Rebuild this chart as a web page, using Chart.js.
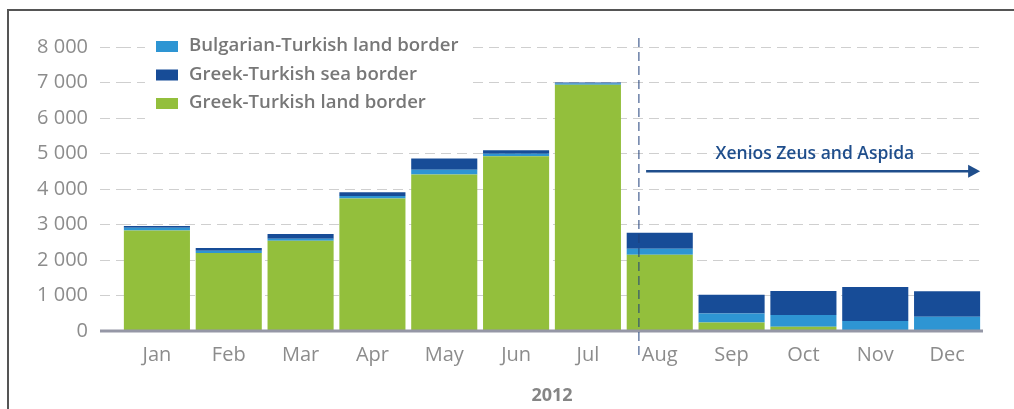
<!DOCTYPE html>
<html>
<head>
<meta charset="utf-8">
<script src="https://cdn.jsdelivr.net/npm/chart.js@4"></script>
<style>
  html, body { margin: 0; padding: 0; background: #fff; }
  #wrap { width: 1014px; height: 409px; }
</style>
</head>
<body>
<div id="wrap"><canvas id="chart" width="1014" height="409"></canvas></div>
<script>
// chart data
const months = ['Jan', 'Feb', 'Mar', 'Apr', 'May', 'Jun', 'Jul', 'Aug', 'Sep', 'Oct', 'Nov', 'Dec'];
const greekLand = [2830, 2200, 2540, 3730, 4410, 4920, 6940, 2150, 240, 120, 30, 20];
const bulgarianLand = [80, 60, 60, 70, 130, 70, 30, 170, 255, 330, 250, 380];
const greekSea = [50, 80, 130, 110, 320, 100, 30, 450, 525, 680, 960, 720];
const yTickLabels = ['0', '1 000', '2 000', '3 000', '4 000', '5 000', '6 000', '7 000', '8 000'];
const yearLabel = '2012';
const operationLabel = 'Xenios Zeus and Aspida';

// where the operation starts / arrow runs (category index units, y value)
const operationStart = 6.71;
const arrowFrom = 6.81;
const arrowTo = 11.46;
const arrowValue = 4500;
const textValue = 4990;
const textAt = 9.16;

const green = '#93bf3c';
const lightBlue = '#2e95d3';
const darkBlue = '#174c97';
const labelGrey = '#8c8c8c';

const decorations = {
    id: 'decorations',
    afterDraw(chart) {
        const ctx = chart.ctx;
        const x = chart.scales.x;
        const y = chart.scales.y;
        const area = chart.chartArea;
        ctx.save();

        // frame (top + left only)
        ctx.strokeStyle = '#555';
        ctx.lineWidth = 2;
        ctx.beginPath();
        ctx.moveTo(8, 409);
        ctx.lineTo(8, 10);
        ctx.lineTo(1014, 10);
        ctx.stroke();

        // baseline
        ctx.strokeStyle = '#9597a6';
        ctx.lineWidth = 3;
        ctx.beginPath();
        ctx.moveTo(area.left - 21, y.getPixelForValue(0));
        ctx.lineTo(area.right, y.getPixelForValue(0));
        ctx.stroke();

        // legend box
        ctx.fillStyle = '#fff';
        ctx.fillRect(145, 35, 327, 86);
        const items = [
            [chart.data.datasets[1].label, lightBlue],
            [chart.data.datasets[2].label, darkBlue],
            [chart.data.datasets[0].label, green]
        ];
        ctx.font = '600 18.6px "Open Sans"';
        ctx.textBaseline = 'middle';
        items.forEach((it, i) => {
            const cy = 46 + i * 28.5;
            ctx.fillStyle = it[1];
            ctx.fillRect(156, cy - 5, 22, 11);
            ctx.fillStyle = '#777';
            ctx.fillText(it[0], 189, cy);
        });

        // dashed marker line
        const step = x.getPixelForValue(1) - x.getPixelForValue(0);
        const mx = x.getPixelForValue(0) + operationStart * step;
        ctx.strokeStyle = '#1f3f7a';
        ctx.lineWidth = 1;
        ctx.setLineDash([9, 5]);
        ctx.beginPath();
        ctx.moveTo(mx, 38);
        ctx.lineTo(mx, 358);
        ctx.stroke();
        ctx.setLineDash([]);

        // arrow
        const ax1 = x.getPixelForValue(0) + arrowFrom * step;
        const ax2 = x.getPixelForValue(0) + arrowTo * step;
        const ay = y.getPixelForValue(arrowValue);
        ctx.strokeStyle = '#1f4e8c';
        ctx.fillStyle = '#1f4e8c';
        ctx.lineWidth = 2.5;
        ctx.beginPath();
        ctx.moveTo(ax1, ay);
        ctx.lineTo(ax2 - 10, ay);
        ctx.stroke();
        ctx.beginPath();
        ctx.moveTo(ax2, ay);
        ctx.lineTo(ax2 - 12, ay - 6.5);
        ctx.lineTo(ax2 - 12, ay + 6.5);
        ctx.closePath();
        ctx.fill();

        ctx.font = '600 17.5px "Open Sans"';
        ctx.textAlign = 'center';
        ctx.fillText(operationLabel, x.getPixelForValue(0) + textAt * step, y.getPixelForValue(textValue));
        ctx.restore();
    }
};

new Chart(document.getElementById('chart'), {
    type: 'bar',
    data: {
        labels: months,
        datasets: [
            { label: 'Greek-Turkish land border', data: greekLand, backgroundColor: green },
            { label: 'Bulgarian-Turkish land border', data: bulgarianLand, backgroundColor: lightBlue },
            { label: 'Greek-Turkish sea border', data: greekSea, backgroundColor: darkBlue }
        ]
    },
    options: {
        responsive: false,
        animation: false,
        layout: { padding: { top: 47, right: 31, bottom: 0, left: 0 } },
        datasets: { bar: { barPercentage: 0.92, categoryPercentage: 1 } },
        plugins: { legend: { display: false }, tooltip: { enabled: false } },
        scales: {
            x: {
                stacked: true,
                grid: { display: false },
                border: { display: false },
                ticks: { color: labelGrey, font: { family: 'Open Sans', size: 20 }, padding: 4 },
                title: {
                    display: true, text: yearLabel, color: '#858585',
                    font: { family: 'Open Sans', size: 18, weight: 'bold' },
                    padding: { top: 0, bottom: 2 }
                },
                afterFit(s) { s.height = 78; }
            },
            y: {
                stacked: true,
                min: 0,
                max: 8000,
                ticks: {
                    stepSize: 1000,
                    color: labelGrey,
                    font: { family: 'Open Sans', size: 20 },
                    padding: 12,
                    callback: (v, i) => yTickLabels[i]
                },
                grid: {
                    color: '#cfcfcf',
                    tickColor: '#cfcfcf',
                    tickLength: 21,
                    tickBorderDash: [10, 6]
                },
                border: { display: false, dash: [10, 6] },
                afterFit(s) { s.width = 121; }
            }
        }
    },
    plugins: [decorations]
});
</script>
</body>
</html>
